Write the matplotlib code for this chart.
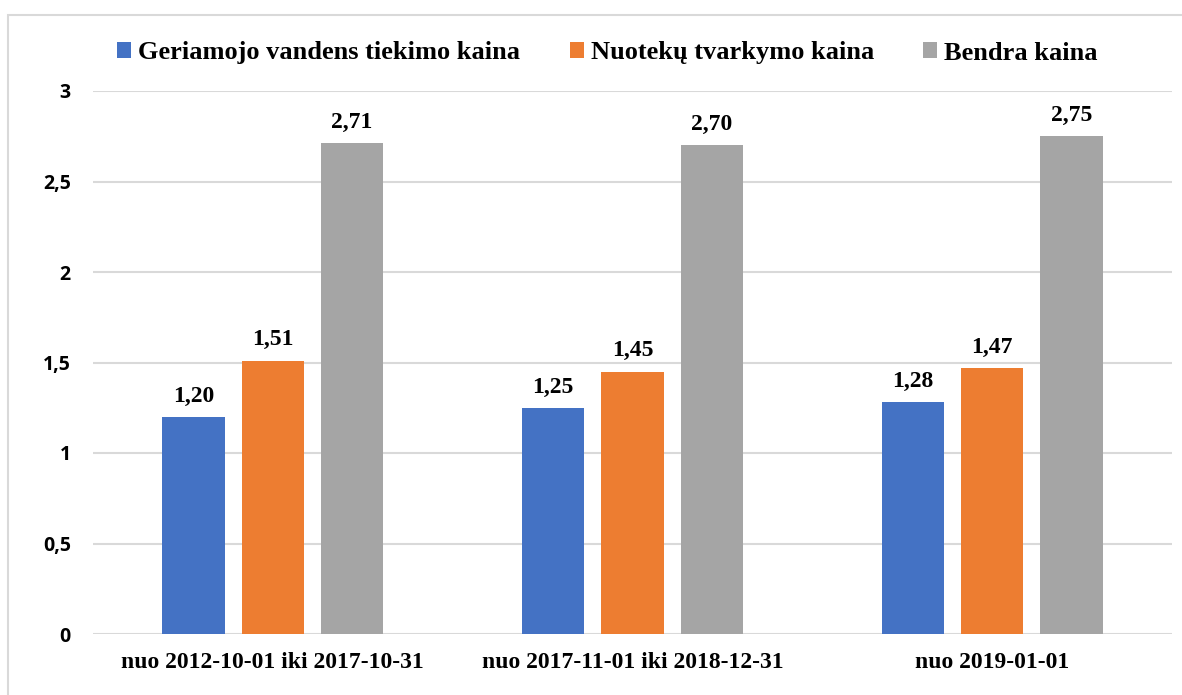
import numpy as np
import matplotlib
matplotlib.use("Agg")
import matplotlib.pyplot as plt
from matplotlib.patches import Rectangle

categories = ["nuo 2012-10-01 iki 2017-10-31", "nuo 2017-11-01 iki 2018-12-31", "nuo 2019-01-01"]
series_names = ["Geriamojo vandens tiekimo kaina", "Nuotekų tvarkymo kaina", "Bendra kaina"]
water = [1.20, 1.25, 1.28]
sewage = [1.51, 1.45, 1.47]
total = [2.71, 2.70, 2.75]
y_ticks = [0, 0.5, 1, 1.5, 2, 2.5, 3]
y_tick_labels = ["0", "0,5", "1", "1,5", "2", "2,5", "3"]

colors = ["#4472C4", "#ED7D31", "#A5A5A5"]
offsets = [-0.2205, 0.0, 0.2205]
bar_w = 0.174
serif = "Liberation Serif"

fig = plt.figure(figsize=(11.82, 6.95), dpi=100)
ax = fig.add_axes([93 / 1182, 1 - 634 / 695, 1079 / 1182, 543 / 695])

x = np.arange(len(categories))
bars = []
for vals, off, col, name in zip([water, sewage, total], offsets, colors, series_names):
    b = ax.bar(x + off, vals, width=bar_w, color=col, label=name, zorder=3)
    bars.append(b)
    for xi, v in zip(x + off, vals):
        ax.annotate(f"{v:.2f}".replace(".", ","), (xi, v), xytext=(0, 11),
                    textcoords="offset points", ha="center", va="baseline",
                    fontsize=17, fontweight="bold", family=serif)

ax.set_xlim(-0.5, 2.5)
ax.set_ylim(0, 3)
ax.set_yticks(y_ticks)
ax.set_yticklabels(y_tick_labels, fontsize=14, fontweight="bold", family="Open Sans")
ax.set_xticks(x)
ax.set_xticklabels(categories, fontsize=17, fontweight="bold", family=serif)
ax.tick_params(axis="both", length=0)
ax.tick_params(axis="y", pad=16)
ax.tick_params(axis="x", pad=13)
ax.grid(axis="y", color="#d9d9d9", linewidth=1.5, zorder=0)
for s in ax.spines.values():
    s.set_visible(False)

# legend entries placed one by one, as in the original
leg_x = [117, 570, 923]
for b, name, lx in zip(bars, series_names, leg_x):
    fig.legend([b], [name], loc="center left", bbox_to_anchor=(lx / 1182, 1 - 53 / 695),
               frameon=False, handlelength=0.53, handleheight=0.53, handletextpad=0.25,
               borderpad=0, borderaxespad=0,
               prop={"family": serif, "weight": "bold", "size": 19})

fig.add_artist(Rectangle((8 / 1182, -0.1), 1.2, 1.1 - 15 / 695, transform=fig.transFigure,
                         fill=False, edgecolor="#d9d9d9", linewidth=1.5))

fig.savefig("out.png", dpi=100)
